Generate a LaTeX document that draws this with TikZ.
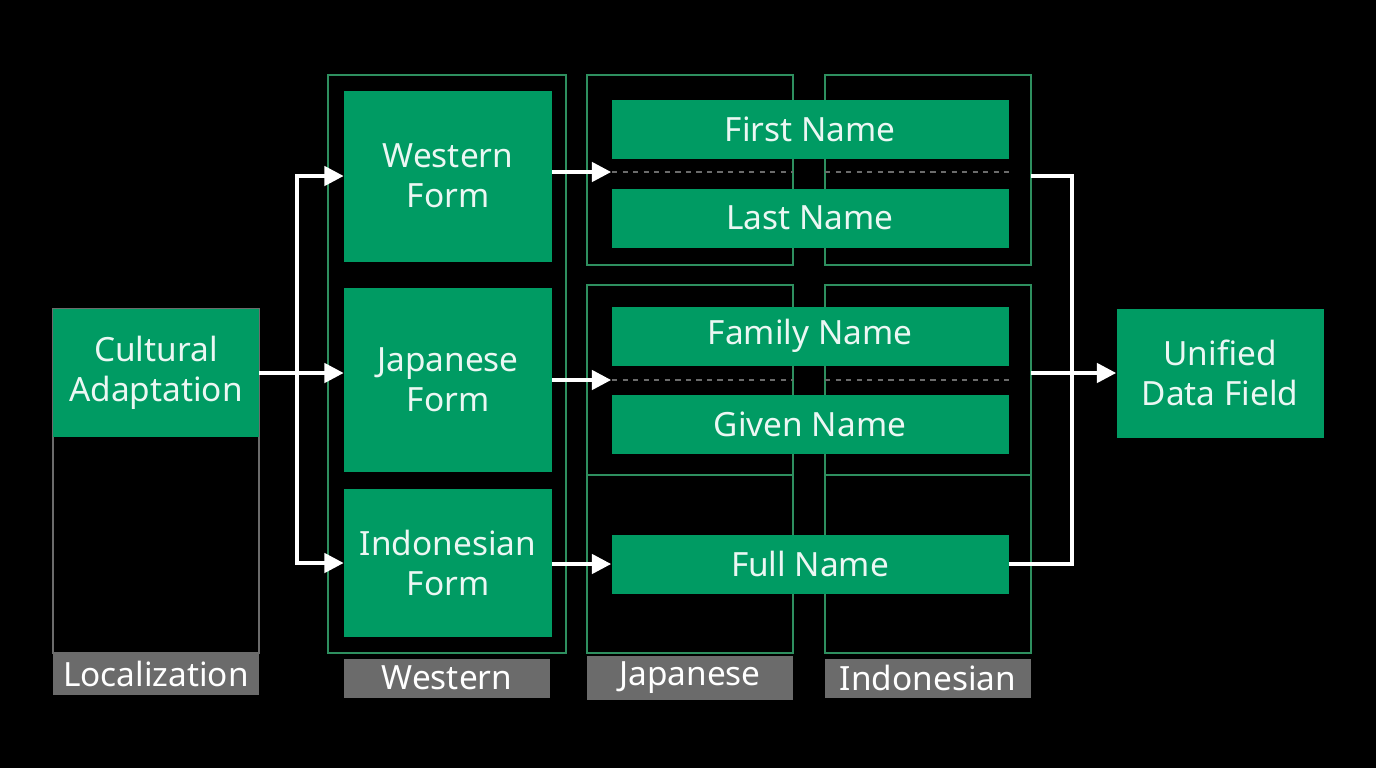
\documentclass[tikz,border=0pt]{standalone}
\usepackage{fontspec}
\setmainfont{Noto Sans}
\usetikzlibrary{arrows.meta}
\definecolor{grn}{HTML}{009B63}
\definecolor{frm}{HTML}{2E8F5F}
\definecolor{lbl}{HTML}{6B6B6B}
\tikzset{
  box/.style={fill=grn, text=white!92!grn, align=center, font=\fontsize{19}{23}\selectfont},
  tag/.style={fill=lbl, text=white, font=\fontsize{19}{23}\selectfont},
  flow/.style={draw=white, line width=2.2pt, -{Triangle[length=11pt,width=11pt]}}
}
\begin{document}
\begin{tikzpicture}[x=0.02cm, y=-0.02cm]
    \fill[black] (0,0) rectangle (1376,768);
    % frames
    \draw[lbl, line width=1pt] (53,309) rectangle (259,653);
    \draw[frm, line width=1pt] (328,75) rectangle (566,653);
    \foreach \x in {587, 825} {
            \foreach \a/\b in {75/265, 285/475, 475/653} {
                    \draw[frm, line width=1pt] (\x,\a) rectangle (\x+206,\b);
                }
        }
    % labels under columns
    \node[tag, minimum width=206*0.02cm, minimum height=41*0.02cm] (L) at (156,674) {Localization};
    \node[tag, minimum width=206*0.02cm, minimum height=39*0.02cm] (W) at (447,678) {Western};
    \node[tag, minimum width=206*0.02cm, minimum height=39*0.02cm] (J) at (690,678) {Japanese};
    \node[tag, minimum width=206*0.02cm, minimum height=39*0.02cm] (I) at (928,678) {Indonesian};
    % boxes
    \node[box, minimum width=206*0.02cm, minimum height=128*0.02cm] (CA) at (156,373) {Cultural\\Adaptation};
    \node[box, minimum width=207*0.02cm, minimum height=129*0.02cm] (UD) at (1220,373) {Unified\\Data Field};
    \node[box, minimum width=208*0.02cm, minimum height=171*0.02cm] (WF) at (448,176) {Western\\Form};
    \node[box, minimum width=208*0.02cm, minimum height=184*0.02cm] (JF) at (448,380) {Japanese\\Form};
    \node[box, minimum width=208*0.02cm, minimum height=148*0.02cm] (IF) at (448,563) {Indonesian\\Form};
    \foreach \n/\y/\t in {F1/129/First Name, F2/218/Last Name, F3/336/Family Name,
            F4/424/Given Name, F5/564/Full Name} {
            \node[box, minimum width=397*0.02cm, minimum height=59*0.02cm] (\n) at (810,\y) {\t};
        }
    % dashed separators
    \foreach \y in {172, 380} {
            \draw[lbl, dashed, line width=1pt] (612,\y) -- (793,\y);
            \draw[lbl, dashed, line width=1pt] (825,\y) -- (1009,\y);
        }
    % connectors
    \coordinate (s) at (297,373);
    \coordinate (m) at (1072,373);
    \draw[draw=white, line width=2.2pt] (CA.east) -- (s);
    \draw[flow] (s) |- (WF.west);
    \draw[flow] (s) -- (JF.west |- s);
    \draw[flow] (s) |- (IF.west);
    \draw[flow] (WF.east |- 0,172) -- (F1.west |- 0,172);
    \draw[flow] (JF.east) -- (F3.west |- 0,380);
    \draw[flow] (IF.east |- F5) -- (F5.west);
    \draw[draw=white, line width=2.2pt] (1031,176) -| (m);
    \draw[draw=white, line width=2.2pt] (F5.east) -| (m);
    \draw[draw=white, line width=2.2pt] (1031,373) -- (m);
    \draw[flow] (m) -- (UD.west);
\end{tikzpicture}
\end{document}
